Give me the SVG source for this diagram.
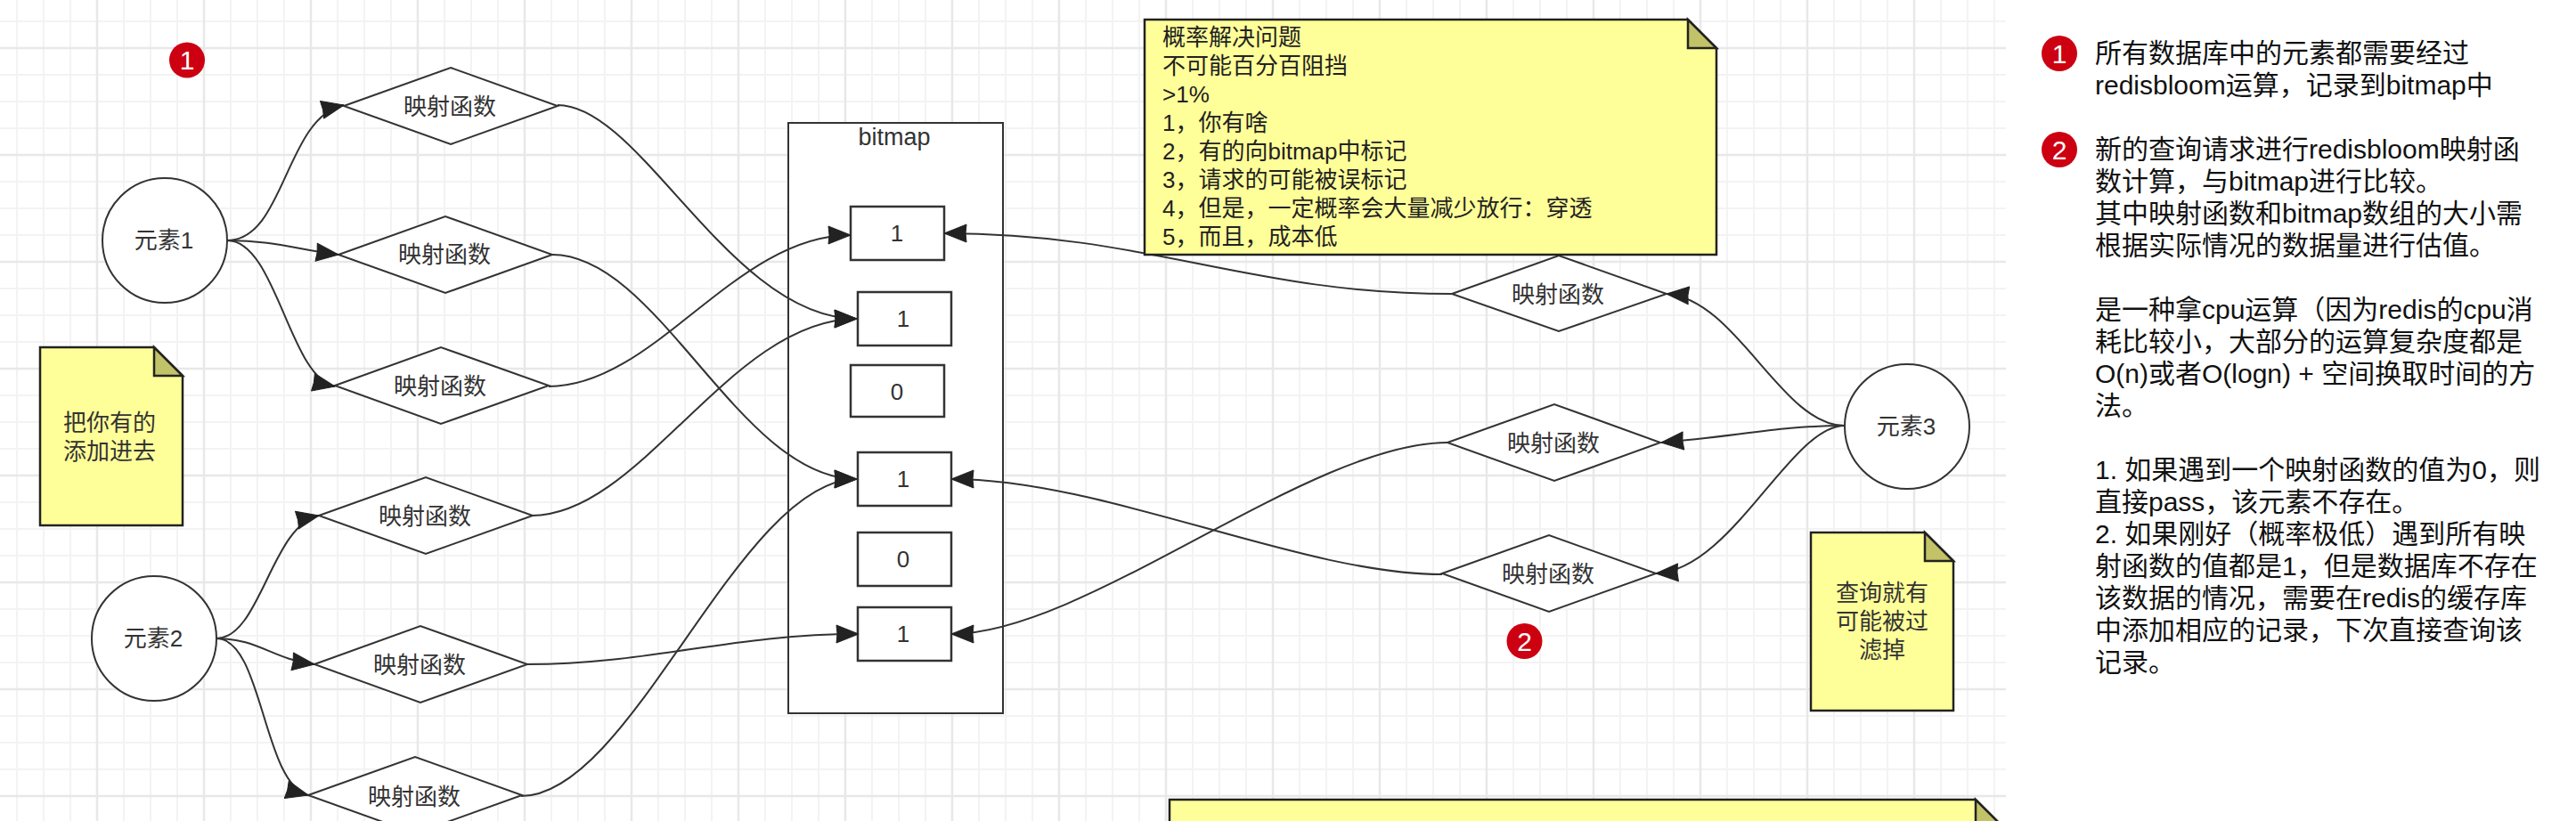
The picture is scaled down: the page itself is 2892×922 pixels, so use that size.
<svg xmlns="http://www.w3.org/2000/svg" width="2892" height="922" viewBox="0 0 2892 922">
<style>
text{font-family:"Liberation Sans","Noto Sans CJK SC",sans-serif;font-size:26px;fill:#333;text-anchor:middle}
.left{text-anchor:start;fill:#222}
.side{text-anchor:start;font-size:30px;fill:#111}
.shape{fill:#fff;stroke:#333;stroke-width:2}
.box{fill:#fff;stroke:#333;stroke-width:2.5}
.note{fill:#ffff99;stroke:#222;stroke-width:2.5}
.fold{fill:#c2c268;stroke:#222;stroke-width:2.5}
.badge{fill:#cc0011}
.badgeT{fill:#fff;font-size:30px}
.edge{fill:none;stroke:#333;stroke-width:2;marker-end:url(#arrow)}
</style>
<defs>
<pattern id="grid" patternUnits="userSpaceOnUse" x="94" y="39" width="120" height="120">
<path d="M45 0V120M75 0V120M105 0V120M0 45H120M0 75H120M0 105H120" stroke="#f3f3f3" stroke-width="2" fill="none"/>
<path d="M15 0V120M0 15H120" stroke="#e8e8e8" stroke-width="2.5" fill="none"/>
</pattern>
<marker id="arrow" markerUnits="userSpaceOnUse" markerWidth="28" markerHeight="24" refX="26" refY="12" orient="auto">
<path d="M1 2L26 12L1 22L2 12Z" fill="#222" stroke="#222" stroke-width="1" stroke-linejoin="round"/>
</marker>
</defs>
<rect width="2892" height="922" fill="#fff"/>
<rect width="2252" height="922" fill="url(#grid)"/>

<g id="bitmap">
<rect class="shape" x="885" y="138" width="241" height="663"/>
<text x="1004" y="163" style="font-size:27px">bitmap</text>
</g>

<g id="c1"><rect class="box" x="955" y="232" width="105" height="60"/><text x="1007" y="271">1</text></g>
<g id="c2"><rect class="box" x="963" y="328" width="105" height="60"/><text x="1014" y="367">1</text></g>
<g id="c3"><rect class="box" x="955" y="410" width="105" height="58"/><text x="1007" y="449">0</text></g>
<g id="c4"><rect class="box" x="963" y="508" width="105" height="60"/><text x="1014" y="547">1</text></g>
<g id="c5"><rect class="box" x="963" y="598" width="105" height="60"/><text x="1014" y="637">0</text></g>
<g id="c6"><rect class="box" x="963" y="682" width="105" height="60"/><text x="1014" y="721">1</text></g>

<g id="badge-1"><ellipse class="badge" cx="210" cy="67.5" rx="20" ry="20"/><text class="badgeT" x="210" y="78">1</text></g>
<g id="badge-2"><ellipse class="badge" cx="1711.5" cy="720" rx="20" ry="20"/><text class="badgeT" x="1711.5" y="731">2</text></g>

<g id="el1"><circle class="shape" cx="185" cy="270" r="70"/><text x="184" y="279">元素1</text></g>
<g id="el2"><circle class="shape" cx="173" cy="717" r="70"/><text x="172" y="726">元素2</text></g>
<g id="el3"><circle class="shape" cx="2141" cy="479" r="70"/><text x="2140" y="488">元素3</text></g>

<g id="f1"><path class="shape" d="M386 119L506 76L626 119L506 162Z"/><text x="505" y="129">映射函数</text></g>
<g id="f2"><path class="shape" d="M380 286L500 243L620 286L500 329Z"/><text x="499" y="295">映射函数</text></g>
<g id="f3"><path class="shape" d="M376 433L495 390L616 433L495 476Z"/><text x="494" y="443">映射函数</text></g>
<g id="f4"><path class="shape" d="M358 579L478 536L598 579L478 622Z"/><text x="477" y="589">映射函数</text></g>
<g id="f5"><path class="shape" d="M353 746L472 703L592 746L472 789Z"/><text x="471" y="756">映射函数</text></g>
<g id="f6"><path class="shape" d="M346 893L466 850L586 893L466 936Z"/><text x="465" y="904">映射函数</text></g>
<g id="f7"><path class="shape" d="M1630 330L1750 287L1871 330L1750 372Z"/><text x="1749" y="340">映射函数</text></g>
<g id="f8"><path class="shape" d="M1625 497L1745 454L1864 497L1745 540Z"/><text x="1744" y="507">映射函数</text></g>
<g id="f9"><path class="shape" d="M1619 644L1739 601L1859 644L1739 687Z"/><text x="1738" y="654">映射函数</text></g>

<g id="connectors">
<path class="edge" d="M255 270C320 270 320 132 386 118"/>
<path class="edge" d="M255 270C310 270 335 281 380 286"/>
<path class="edge" d="M255 270C310 270 325 424 376 434"/>
<path class="edge" d="M243 717C292 717 305 590 358 579"/>
<path class="edge" d="M243 717C290 717 305 740 353 746"/>
<path class="edge" d="M243 717C295 717 295 880 346 893"/>
<path class="edge" d="M626 118C720 118 820 358 962 358"/>
<path class="edge" d="M620 286C740 286 830 538 962 538"/>
<path class="edge" d="M616 434C735 434 825 264 955 264"/>
<path class="edge" d="M597 579C720 579 820 358 962 358"/>
<path class="edge" d="M592 746C730 746 820 712 964 712"/>
<path class="edge" d="M585 894C710 894 830 538 962 538"/>
<path class="edge" d="M1630 330C1400 330 1290 262 1060 262"/>
<path class="edge" d="M1625 497C1470 497 1219 712 1068 712"/>
<path class="edge" d="M1619 645C1460 645 1240 538 1068 538"/>
<path class="edge" d="M2071 478C2000 478 1950 336 1871 330"/>
<path class="edge" d="M2071 478C2000 478 1950 490 1865 497"/>
<path class="edge" d="M2071 478C2010 478 1945 640 1859 644"/>
</g>

<g id="note-add">
<path class="note" d="M45 390H173L205 422V590H45Z"/><path class="fold" d="M173 390V422H205Z"/>
<text x="123" y="484">把你有的</text><text x="123" y="516">添加进去</text>
</g>
<g id="note-prob">
<path class="note" d="M1285 22H1895L1927 54V286H1285Z"/><path class="fold" d="M1895 22V54H1927Z"/>
<text class="left" x="1305" y="51">概率解决问题</text>
<text class="left" x="1305" y="83">不可能百分百阻挡</text>
<text class="left" x="1305" y="115">&gt;1%</text>
<text class="left" x="1305" y="147">1，你有啥</text>
<text class="left" x="1305" y="179">2，有的向bitmap中标记</text>
<text class="left" x="1305" y="211">3，请求的可能被误标记</text>
<text class="left" x="1305" y="243">4，但是，一定概率会大量减少放行：穿透</text>
<text class="left" x="1305" y="275">5，而且，成本低</text>
</g>
<g id="note-query">
<path class="note" d="M2033 598H2161L2193 630V798H2033Z"/><path class="fold" d="M2161 598V630H2193Z"/>
<text x="2113" y="675">查询就有</text><text x="2113" y="707">可能被过</text><text x="2113" y="739">滤掉</text>
</g>
<g id="note-bottom">
<path class="note" d="M1313 898H2218L2250 930H1313Z"/><path class="fold" d="M2218 898V930H2250Z"/>
</g>

<g id="legend">
<ellipse class="badge" cx="2312" cy="60" rx="20" ry="20"/><text class="badgeT" x="2312" y="71">1</text>
<ellipse class="badge" cx="2312" cy="168" rx="20" ry="20"/><text class="badgeT" x="2312" y="179">2</text>
<text class="side" x="2352" y="70">所有数据库中的元素都需要经过</text>
<text class="side" x="2352" y="106">redisbloom运算，记录到bitmap中</text>
<text class="side" x="2352" y="178">新的查询请求进行redisbloom映射函</text>
<text class="side" x="2352" y="214">数计算，与bitmap进行比较。</text>
<text class="side" x="2352" y="250">其中映射函数和bitmap数组的大小需</text>
<text class="side" x="2352" y="286">根据实际情况的数据量进行估值。</text>
<text class="side" x="2352" y="358">是一种拿cpu运算（因为redis的cpu消</text>
<text class="side" x="2352" y="394">耗比较小，大部分的运算复杂度都是</text>
<text class="side" x="2352" y="430">O(n)或者O(logn) + 空间换取时间的方</text>
<text class="side" x="2352" y="466">法。</text>
<text class="side" x="2352" y="538">1. 如果遇到一个映射函数的值为0，则</text>
<text class="side" x="2352" y="574">直接pass，该元素不存在。</text>
<text class="side" x="2352" y="610">2. 如果刚好（概率极低）遇到所有映</text>
<text class="side" x="2352" y="646">射函数的值都是1，但是数据库不存在</text>
<text class="side" x="2352" y="682">该数据的情况，需要在redis的缓存库</text>
<text class="side" x="2352" y="718">中添加相应的记录，下次直接查询该</text>
<text class="side" x="2352" y="754">记录。</text>
</g>
</svg>
